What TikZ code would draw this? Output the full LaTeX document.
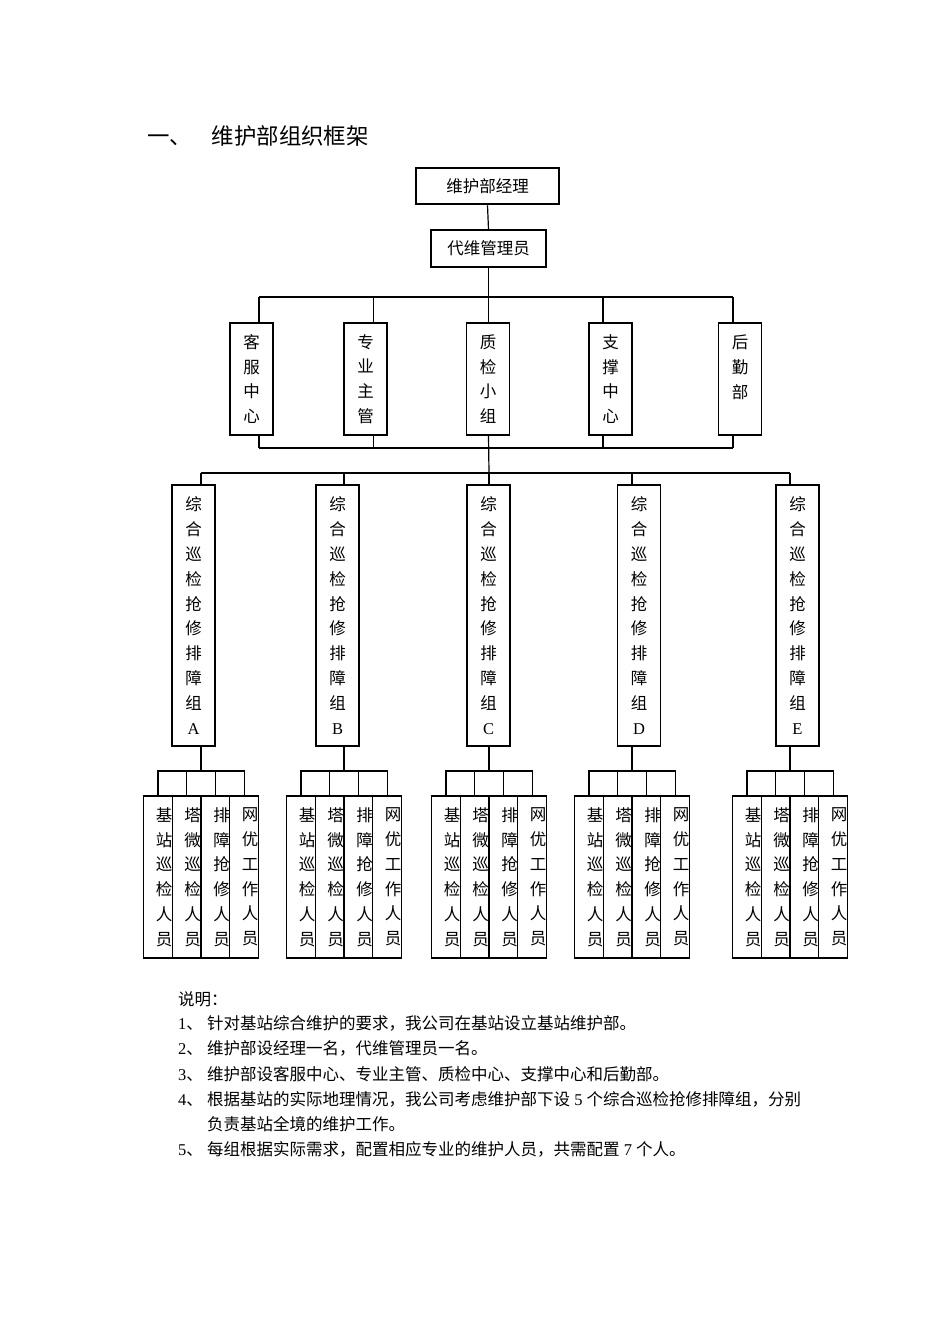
\documentclass[tikz,border=0pt]{standalone}
\usepackage{fontspec}
\setmainfont{Liberation Serif}
\newfontfamily\zhfont{Noto Sans CJK SC}
\newcommand\cn[1]{{\zhfont #1}}
\begin{document}
\begin{tikzpicture}[x=1pt,y=-1pt,
  conn/.style={line width=1.2pt},
  box/.style={draw, line width=1.2pt, fill=white, inner sep=0pt,
    font=\zhfont\fontsize{16.5}{24.8}\selectfont, align=center},
  topbox/.style={box, line width=2.5pt, minimum width=143pt, minimum height=36pt},
  admbox/.style={box, minimum width=115pt, minimum height=37pt},
  deptbox/.style={box, minimum width=43pt, minimum height=112pt},
  grpbox/.style={box, minimum width=43pt, minimum height=261pt},
  subbox/.style={box, minimum width=28.75pt, minimum height=162pt, text width=28.75pt, align=right},
  note/.style={anchor=base west, inner sep=0pt, font=\fontsize{16.5}{25}\selectfont}]
\fill[white] (0,0) rectangle (950,1344);
\useasboundingbox (0,0) rectangle (950,1344);

% title
\node[anchor=base west, inner sep=0pt, font=\zhfont\fontsize{22.4}{26}\selectfont] (title) at (147,144) {一、\hspace{20pt}维护部组织框架};

% top
\node[topbox] (mgr) at (487.5,186) {维护部经理};
\node[admbox] (adm) at (488.5,248.5) {代维管理员};
\draw[conn] (mgr.south) -- (adm.north);

% departments
\node[deptbox] (kf) at (251.5,379) {客\\服\\中\\心};
\node[deptbox] (zy) at (365.5,379) {专\\业\\主\\管};
\node[deptbox] (zj) at (488,379) {质\\检\\小\\组};
\node[deptbox] (zc) at (610.5,379) {支\\撑\\中\\心};
\node[deptbox] (hq) at (740,379) {后\\勤\\部\\~};

\coordinate (t1) at (259,297);
\coordinate (t2) at (373.5,297);
\coordinate (t3) at (488.5,297);
\coordinate (t4) at (603,297);
\coordinate (t5) at (733,297);
\coordinate (b1) at (259,448);
\coordinate (b2) at (373.5,448);
\coordinate (b3) at (488.5,448);
\coordinate (b4) at (603,448);
\coordinate (b5) at (733,448);
\draw[conn] (t1) -- (t5);
\draw[conn] (b1) -- (b5);
\draw[conn] (adm.south) -- (t3 |- zj.north);
\draw[conn] (t1) -- (t1 |- kf.north);
\draw[conn] (t2) -- (t2 |- zy.north);
\draw[conn] (t4) -- (t4 |- zc.north);
\draw[conn] (t5) -- (t5 |- hq.north);
\draw[conn] (b1) -- (b1 |- kf.south);
\draw[conn] (b2) -- (b2 |- zy.south);
\draw[conn] (b4) -- (b4 |- zc.south);
\draw[conn] (b5) -- (b5 |- hq.south);

% groups
\coordinate (gl) at (201,473);
\coordinate (gr) at (790,473);
\draw[conn] (gl) -- (gr);
\draw[conn] (b3 |- zj.south) -- (489,473);

\foreach \n/\cx/\g in {A/193.5/201, B/337.5/344, C/488.5/489, D/639/632, E/797.5/790} {
  \node[grpbox] (g\n) at (\cx,615.5) {综\\合\\巡\\检\\抢\\修\\排\\障\\组\\{\rmfamily\n}};
  \coordinate (gt\n) at (\g,473);
  \coordinate (gs\n) at (\g,771);
  \draw[conn] (gt\n) -- (gt\n |- g\n.north);
  \draw[conn] (gt\n |- g\n.south) -- (gs\n);
  \node[subbox] (s\n1) at (\g-43.1,877) {基\\站\\巡\\检\\人\\员};
  \node[subbox] (s\n2) at (\g-14.4,877) {塔\\微\\巡\\检\\人\\员};
  \node[subbox] (s\n3) at (\g+14.4,877) {排\\障\\抢\\修\\人\\员};
  \node[subbox] (s\n4) at (\g+43.1,877) {网\\优\\工\\作\\人\\员};
  \draw[conn] (s\n1.north) -- (s\n1.north |- gs\n) -- (s\n4.north |- gs\n) -- (s\n4.north);
  \draw[conn] (s\n2.north) -- (s\n2.north |- gs\n);
  \draw[conn] (s\n3.north) -- (s\n3.north |- gs\n);
}

% notes
\node[note] (n0) at (178,1005) {\cn{说明：}};
\node[note] (n1) at (178,1029) {\makebox[29pt][l]{1\cn{、}}\cn{针对基站综合维护的要求，我公司在基站设立基站维护部。}};
\node[note] (n2) at (178,1054) {\makebox[29pt][l]{2\cn{、}}\cn{维护部设经理一名，代维管理员一名。}};
\node[note] (n3) at (178,1080) {\makebox[29pt][l]{3\cn{、}}\cn{维护部设客服中心、专业主管、质检中心、支撑中心和后勤部。}};
\node[note] (n4) at (178,1105) {\makebox[29pt][l]{4\cn{、}}\cn{根据基站的实际地理情况，我公司考虑维护部下设} 5 \cn{个综合巡检抢修排障组，分别}};
\node[note] (n4b) at (207,1130) {\cn{负责基站全境的维护工作。}};
\node[note] (n5) at (178,1155) {\makebox[29pt][l]{5\cn{、}}\cn{每组根据实际需求，配置相应专业的维护人员，共需配置} 7 \cn{个人。}};
\end{tikzpicture}
\end{document}
